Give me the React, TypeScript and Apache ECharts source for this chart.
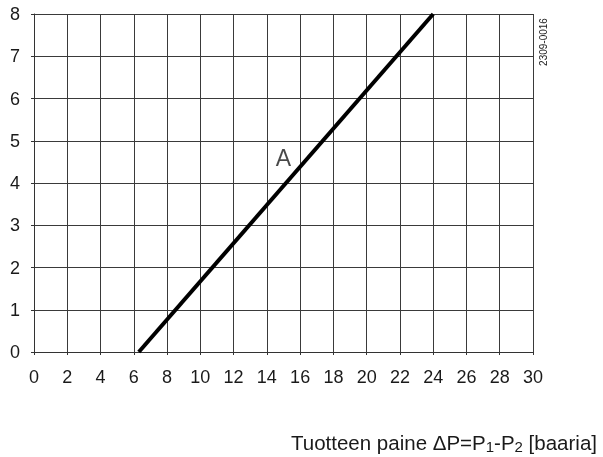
import React, { useEffect, useRef } from "react";
import * as echarts from "echarts";

const xTicks = [0, 2, 4, 6, 8, 10, 12, 14, 16, 18, 20, 22, 24, 26, 28, 30];
const yTicks = [0, 1, 2, 3, 4, 5, 6, 7, 8];
const lineA: [number, number][] = [
  [6.3, 0],
  [24, 8],
];
const labelA: [number, number, string][] = [[15.0, 4.6, "A"]];
const figureCode = "2309-0016";

export default function App() {
  const ref = useRef<HTMLDivElement>(null);
  useEffect(() => {
    if (!ref.current) return;
    const chart = echarts.init(ref.current, null, { renderer: "svg" });
    const font = "'Liberation Sans', Arial, Helvetica, sans-serif";
    chart.setOption({
      animation: false,
      textStyle: { fontFamily: font },
      grid: { left: 34, right: 70, top: 14, bottom: 105 },
      xAxis: {
        type: "value",
        min: xTicks[0],
        max: xTicks[xTicks.length - 1],
        interval: 2,
        axisLine: { show: true, lineStyle: { color: "#333", width: 1 } },
        axisTick: { show: true, length: 3, lineStyle: { color: "#333" } },
        axisLabel: { fontSize: 18, color: "#1a1a1a", margin: 16, fontFamily: font },
        splitLine: { show: true, lineStyle: { color: "#3a3a3a", width: 1 } },
      },
      yAxis: {
        type: "value",
        min: yTicks[0],
        max: yTicks[yTicks.length - 1],
        interval: 1,
        axisLine: { show: true, lineStyle: { color: "#333", width: 1 } },
        axisTick: { show: true, length: 3, lineStyle: { color: "#333" } },
        axisLabel: { fontSize: 18, color: "#1a1a1a", margin: 14, fontFamily: font },
        splitLine: { show: true, lineStyle: { color: "#3a3a3a", width: 1 } },
      },
      series: [
        {
          type: "line",
          data: lineA,
          symbol: "none",
          lineStyle: { color: "#000", width: 4 },
          silent: true,
        },
        {
          type: "scatter",
          data: labelA,
          symbolSize: 0,
          label: {
            show: true,
            position: "inside",
            formatter: (p: any) => p.data[2],
            fontSize: 23,
            color: "#1a1a1a",
            fontFamily: font,
          },
          silent: true,
        },
      ],
      graphic: [
        {
          type: "text",
          x: 543,
          y: 42,
          rotation: Math.PI / 2,
          style: {
            text: figureCode,
            fontSize: 10,
            fill: "#222",
            fontFamily: font,
            align: "center",
            verticalAlign: "middle",
          },
        },
        {
          type: "text",
          x: 597,
          y: 442,
          style: {
            text: "Tuotteen paine ΔP=P{sub|1}-P{sub|2} [baaria]",
            fontSize: 20.5,
            fill: "#1a1a1a",
            fontFamily: font,
            align: "right",
            verticalAlign: "middle",
            rich: {
              sub: {
                fontSize: 15,
                fill: "#1a1a1a",
                fontFamily: font,
                verticalAlign: "bottom",
                padding: [8, 0, 0, 0],
              },
            },
          },
        },
      ],
    });
    return () => chart.dispose();
  }, []);
  return (
    <div
      ref={ref}
      style={{ position: "fixed", left: 0, top: 0, width: 603, height: 457 }}
    />
  );
}
